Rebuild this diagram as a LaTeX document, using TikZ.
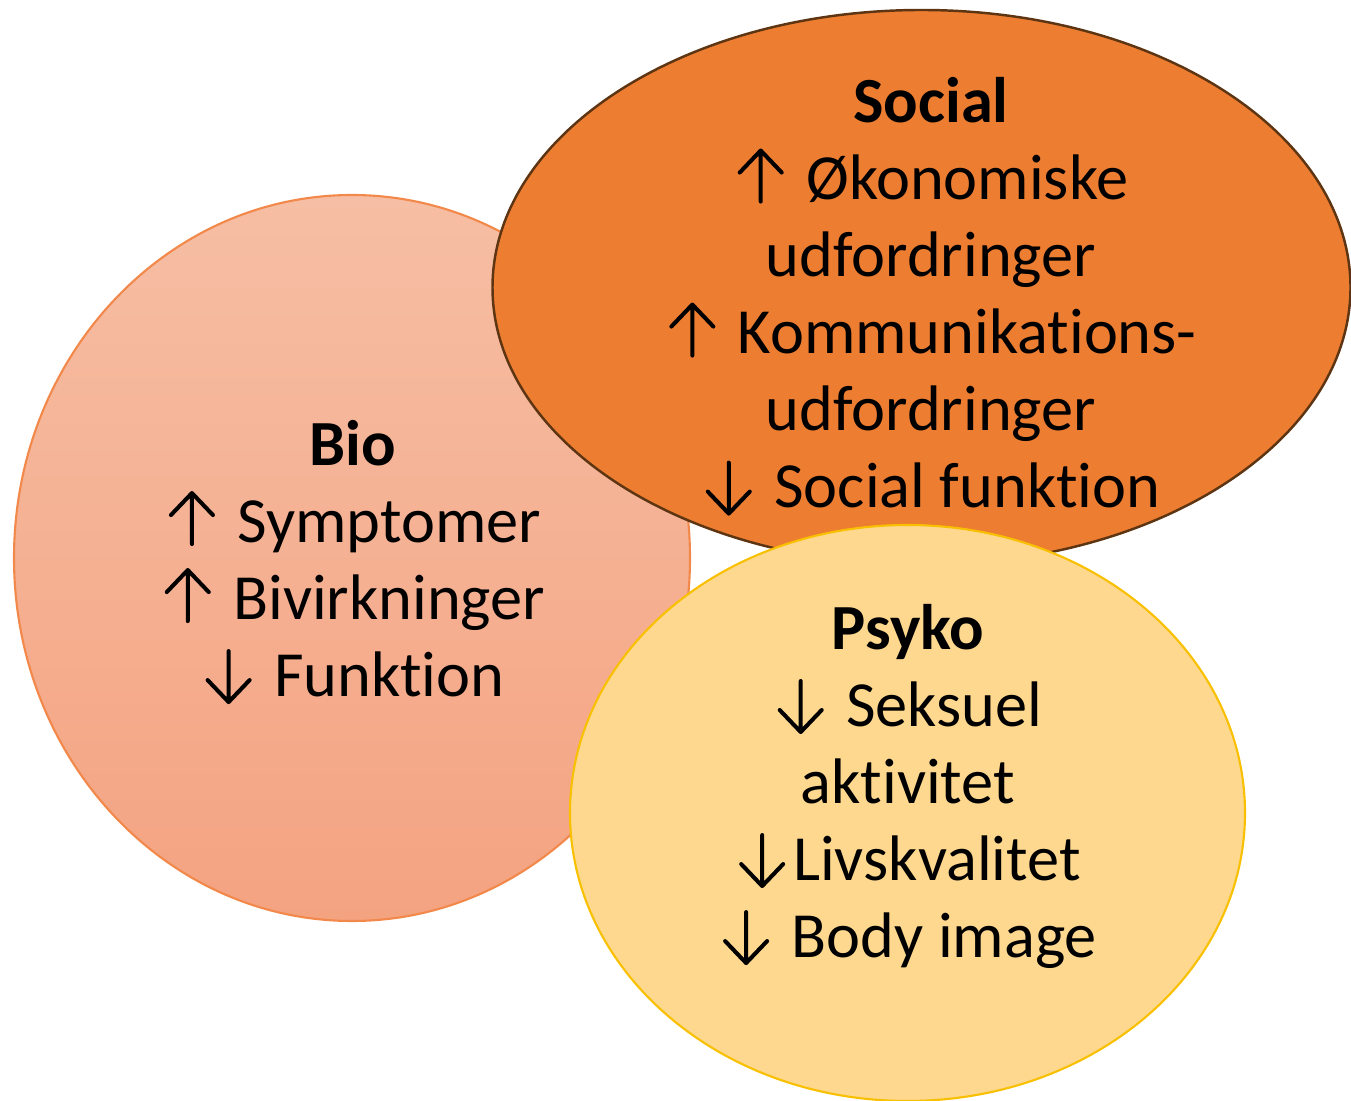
\documentclass[tikz,border=0pt]{standalone}
\usepackage{fontspec}
\setmainfont{Carlito}[Ligatures={NoCommon,NoRequired,NoContextual},RawFeature={-liga;-clig;-calt;-rlig;-dlig}]
\tikzset{arrstroke/.style={line width=1.15pt,line cap=round,line join=round,draw=black}}
\newcommand{\uarr}{\tikz[baseline=0pt,x=0.01cm,y=0.01cm]{\path (-27,0) (31,0);\draw[arrstroke] (0,-2)--(0,49) (-21,27)--(0,49)--(21,27);}}
\newcommand{\darr}{\tikz[baseline=0pt,x=0.01cm,y=0.01cm]{\path (-27,0) (31,0);\draw[arrstroke] (0,45)--(0,-6) (-21,16)--(0,-6)--(21,16);}}
\definecolor{biotop}{HTML}{F6BEA4}
\definecolor{biobot}{HTML}{F4A381}
\definecolor{bioline}{HTML}{F2884A}
\definecolor{socfill}{HTML}{ED7D31}
\definecolor{socline}{HTML}{5E3512}
\definecolor{psyfill}{HTML}{FED88F}
\definecolor{psyline}{HTML}{F8C000}
\begin{document}
\begin{tikzpicture}[x=0.01cm,y=-0.01cm,
  lbl/.style={align=center,inner sep=0pt,text=black,font=\fontsize{18.3}{21.9}\selectfont}]
\useasboundingbox (0,0) rectangle (1351,1101);
% Bio
\shade[top color=biotop,bottom color=biobot,draw=bioline,line width=0.6pt]
  (352,558) ellipse [x radius=338, y radius=363];
% Social
\filldraw[fill=socfill,draw=socline,line width=0.7pt]
  (921.5,287.5) ellipse [x radius=429, y radius=277.5];
% Psyko
\filldraw[fill=psyfill,draw=psyline,line width=0.6pt]
  (907.5,813) ellipse [x radius=337.5, y radius=288];
\node[lbl] (bio) at (353,562) {\textbf{Bio}\\\uarr{} Symptomer\\\uarr{} Bivirkninger\\\darr{} Funktion};
\node[lbl] (social) at (931,296.5) {\textbf{Social}\\\uarr{} Økonomiske\\udfordringer\\\uarr{} Kommunikations-\\udfordringer\\\darr{} Social funktion};
\node[lbl] (psyko) at (908,786) {\textbf{Psyko}\\\darr{} Seksuel\\aktivitet\\\darr{}Livskvalitet\\\darr{} Body image};
\end{tikzpicture}
\end{document}
